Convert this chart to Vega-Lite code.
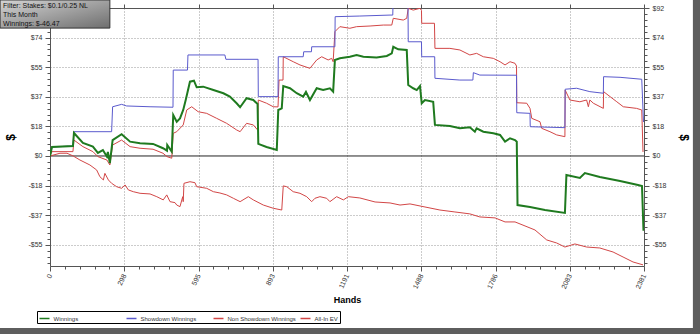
{
"$schema":"https://vega.github.io/schema/vega-lite/v6.json",
"width":594,"height":258,
"autosize":{"type":"none"},
"padding":{"left":50,"top":8,"right":56,"bottom":68},
"background":"white",
"config":{"view":{"stroke":null},"font":"Liberation Sans",
 "axis":{"labelFont":"Liberation Sans","labelFontSize":7,"labelColor":"#333","domainColor":"#555","tickColor":"#555","gridColor":"#999","gridDash":[1,2],"titleFont":"Liberation Sans","titleFontWeight":"bold","titleColor":"#000"}},
"resolve":{"axis":{"y":"independent","x":"independent"}},
"layer":[
 {"data":{"values":[{}]},"mark":{"type":"rule","color":"#222","strokeWidth":1},
  "encoding":{"y":{"datum":0,"type":"quantitative","scale":{"domain":[-68.4,92],"nice":false,"zero":false},
   "axis":{"orient":"right","values":[-66.24,-62.56,-58.88,-55.2,-51.52,-47.84,-44.16,-40.48,-36.8,-33.12,-29.44,-25.76,-22.08,-18.4,-14.72,-11.04,-7.36,-3.68,0,3.68,7.36,11.04,14.72,18.4,22.08,25.76,29.44,33.12,36.8,40.48,44.16,47.84,51.52,55.2,58.88,62.56,66.24,69.92,73.6,77.28,80.96,84.64,88.32,92],
    "labelExpr":"abs(datum.value/18.4-round(datum.value/18.4))<0.001 ? (datum.value<0 ? '-$'+round(-datum.value) : '$'+round(datum.value)) : ''",
    "tickSize":{"condition":{"test":"abs(datum.value/18.4-round(datum.value/18.4))<0.001","value":5},"value":3},
    "grid":false,"labelPadding":3,"title":"$","titleFontSize":12,"titleAngle":90,"titlePadding":10}}}},
 {"data":{"values":[
{"s":"NSD","h":0,"v":0},{"s":"NSD","h":40,"v":1.7},{"s":"NSD","h":68,"v":1.7},{"s":"NSD","h":93,"v":0},{"s":"NSD","h":120,"v":-2.5},{"s":"NSD","h":160,"v":-5.6},{"s":"NSD","h":187,"v":-8.7},{"s":"NSD","h":200,"v":-12.9},{"s":"NSD","h":214,"v":-14.9},{"s":"NSD","h":220,"v":-10.8},{"s":"NSD","h":234,"v":-14.9},{"s":"NSD","h":247,"v":-17},{"s":"NSD","h":267,"v":-19.1},{"s":"NSD","h":287,"v":-20.1},{"s":"NSD","h":301,"v":-18},{"s":"NSD","h":314,"v":-21.1},{"s":"NSD","h":334,"v":-22.2},{"s":"NSD","h":361,"v":-23.2},{"s":"NSD","h":401,"v":-23.6},{"s":"NSD","h":428,"v":-25.3},{"s":"NSD","h":454,"v":-27.3},{"s":"NSD","h":468,"v":-24.2},{"s":"NSD","h":481,"v":-28.4},{"s":"NSD","h":501,"v":-29},{"s":"NSD","h":508,"v":-30.5},{"s":"NSD","h":521,"v":-31.5},{"s":"NSD","h":532,"v":-25.3},{"s":"NSD","h":534,"v":-28.4},{"s":"NSD","h":537,"v":-17},{"s":"NSD","h":561,"v":-16},{"s":"NSD","h":581,"v":-16.6},{"s":"NSD","h":588,"v":-19.1},{"s":"NSD","h":628,"v":-20.1},{"s":"NSD","h":655,"v":-22.2},{"s":"NSD","h":681,"v":-23},{"s":"NSD","h":708,"v":-24.2},{"s":"NSD","h":735,"v":-26.3},{"s":"NSD","h":762,"v":-28.4},{"s":"NSD","h":795,"v":-25.3},{"s":"NSD","h":815,"v":-27.3},{"s":"NSD","h":855,"v":-30.5},{"s":"NSD","h":895,"v":-32.5},{"s":"NSD","h":929,"v":-33.6},{"s":"NSD","h":935,"v":-18.6},{"s":"NSD","h":949,"v":-19.1},{"s":"NSD","h":975,"v":-22.2},{"s":"NSD","h":1002,"v":-23.2},{"s":"NSD","h":1029,"v":-25.3},{"s":"NSD","h":1049,"v":-28.4},{"s":"NSD","h":1062,"v":-26.3},{"s":"NSD","h":1082,"v":-25.3},{"s":"NSD","h":1109,"v":-26.3},{"s":"NSD","h":1122,"v":-28.4},{"s":"NSD","h":1149,"v":-25.3},{"s":"NSD","h":1176,"v":-27.3},{"s":"NSD","h":1196,"v":-25.3},{"s":"NSD","h":1242,"v":-26.1},{"s":"NSD","h":1303,"v":-28.6},{"s":"NSD","h":1363,"v":-29.2},{"s":"NSD","h":1403,"v":-30.5},{"s":"NSD","h":1443,"v":-29.8},{"s":"NSD","h":1503,"v":-31.7},{"s":"NSD","h":1563,"v":-33.6},{"s":"NSD","h":1623,"v":-34.8},{"s":"NSD","h":1683,"v":-36},{"s":"NSD","h":1723,"v":-37.9},{"s":"NSD","h":1784,"v":-38.5},{"s":"NSD","h":1824,"v":-41},{"s":"NSD","h":1864,"v":-41},{"s":"NSD","h":1904,"v":-43.5},{"s":"NSD","h":1944,"v":-46},{"s":"NSD","h":1991,"v":-52.2},{"s":"NSD","h":2031,"v":-54.1},{"s":"NSD","h":2064,"v":-56.6},{"s":"NSD","h":2104,"v":-54.7},{"s":"NSD","h":2151,"v":-56.6},{"s":"NSD","h":2204,"v":-57.2},{"s":"NSD","h":2257,"v":-59.7},{"s":"NSD","h":2297,"v":-62.8},{"s":"NSD","h":2337,"v":-65.9},{"s":"NSD","h":2377,"v":-67.7},
{"s":"EV","h":0,"v":0},{"s":"EV","h":8,"v":2.7},{"s":"EV","h":92,"v":2.7},{"s":"EV","h":96,"v":9.9},{"s":"EV","h":132,"v":5.8},{"s":"EV","h":172,"v":2.7},{"s":"EV","h":192,"v":-0.4},{"s":"EV","h":228,"v":-2.5},{"s":"EV","h":240,"v":-5.6},{"s":"EV","h":251,"v":6.8},{"s":"EV","h":287,"v":9.9},{"s":"EV","h":321,"v":5.8},{"s":"EV","h":361,"v":4.8},{"s":"EV","h":413,"v":4.2},{"s":"EV","h":453,"v":1.7},{"s":"EV","h":469,"v":-0.4},{"s":"EV","h":488,"v":-1.4},{"s":"EV","h":494,"v":14.1},{"s":"EV","h":508,"v":15.1},{"s":"EV","h":534,"v":19.3},{"s":"EV","h":548,"v":28.6},{"s":"EV","h":568,"v":30.6},{"s":"EV","h":594,"v":27.5},{"s":"EV","h":628,"v":26.5},{"s":"EV","h":668,"v":23.4},{"s":"EV","h":708,"v":20.3},{"s":"EV","h":748,"v":16.2},{"s":"EV","h":762,"v":15.1},{"s":"EV","h":788,"v":20.3},{"s":"EV","h":815,"v":19.3},{"s":"EV","h":832,"v":16.2},{"s":"EV","h":835,"v":34.8},{"s":"EV","h":868,"v":32.8},{"s":"EV","h":895,"v":30.6},{"s":"EV","h":914,"v":30.5},{"s":"EV","h":918,"v":47.2},{"s":"EV","h":934,"v":47.2},{"s":"EV","h":935,"v":61.7},{"s":"EV","h":975,"v":58.6},{"s":"EV","h":1002,"v":56.6},{"s":"EV","h":1042,"v":54.5},{"s":"EV","h":1069,"v":59.7},{"s":"EV","h":1089,"v":61.7},{"s":"EV","h":1115,"v":59.7},{"s":"EV","h":1129,"v":60.7},{"s":"EV","h":1135,"v":58.6},{"s":"EV","h":1142,"v":77.3},{"s":"EV","h":1162,"v":80.4},{"s":"EV","h":1202,"v":79.4},{"s":"EV","h":1229,"v":80.4},{"s":"EV","h":1283,"v":80.8},{"s":"EV","h":1336,"v":81.4},{"s":"EV","h":1370,"v":81.4},{"s":"EV","h":1376,"v":85.6},{"s":"EV","h":1416,"v":84.5},{"s":"EV","h":1430,"v":85.6},{"s":"EV","h":1436,"v":91.8},{"s":"EV","h":1456,"v":90.7},{"s":"EV","h":1483,"v":91.8},{"s":"EV","h":1489,"v":90.5},{"s":"EV","h":1490,"v":82.5},{"s":"EV","h":1541,"v":82.5},{"s":"EV","h":1543,"v":66.9},{"s":"EV","h":1603,"v":66.9},{"s":"EV","h":1643,"v":65.9},{"s":"EV","h":1683,"v":62.8},{"s":"EV","h":1710,"v":63.8},{"s":"EV","h":1737,"v":61.7},{"s":"EV","h":1777,"v":60.7},{"s":"EV","h":1804,"v":58.6},{"s":"EV","h":1824,"v":56.6},{"s":"EV","h":1844,"v":58.6},{"s":"EV","h":1864,"v":57.6},{"s":"EV","h":1870,"v":55.9},{"s":"EV","h":1871,"v":33.1},{"s":"EV","h":1911,"v":32.8},{"s":"EV","h":1924,"v":29.6},{"s":"EV","h":1931,"v":23.4},{"s":"EV","h":1964,"v":21.3},{"s":"EV","h":1971,"v":17.2},{"s":"EV","h":2004,"v":15.1},{"s":"EV","h":2031,"v":13.1},{"s":"EV","h":2064,"v":12},{"s":"EV","h":2065,"v":41},{"s":"EV","h":2084,"v":34.8},{"s":"EV","h":2124,"v":33.7},{"s":"EV","h":2151,"v":34.8},{"s":"EV","h":2158,"v":30.6},{"s":"EV","h":2164,"v":34.8},{"s":"EV","h":2178,"v":32.8},{"s":"EV","h":2218,"v":29.6},{"s":"EV","h":2219,"v":40},{"s":"EV","h":2245,"v":36.9},{"s":"EV","h":2272,"v":33.7},{"s":"EV","h":2298,"v":30.6},{"s":"EV","h":2351,"v":29.6},{"s":"EV","h":2372,"v":28.6},{"s":"EV","h":2377,"v":2.5},
{"s":"SD","h":0,"v":0},{"s":"SD","h":8,"v":5.6},{"s":"SD","h":92,"v":6.2},{"s":"SD","h":96,"v":15.1},{"s":"SD","h":247,"v":15.1},{"s":"SD","h":251,"v":30.6},{"s":"SD","h":287,"v":32.1},{"s":"SD","h":307,"v":31.1},{"s":"SD","h":401,"v":30.6},{"s":"SD","h":493,"v":30.3},{"s":"SD","h":494,"v":53.4},{"s":"SD","h":551,"v":53.4},{"s":"SD","h":553,"v":62.8},{"s":"SD","h":701,"v":62.8},{"s":"SD","h":705,"v":60.1},{"s":"SD","h":834,"v":60.1},{"s":"SD","h":835,"v":36.9},{"s":"SD","h":914,"v":36.9},{"s":"SD","h":915,"v":61.7},{"s":"SD","h":1015,"v":61.7},{"s":"SD","h":1017,"v":64.8},{"s":"SD","h":1048,"v":64.8},{"s":"SD","h":1049,"v":67.9},{"s":"SD","h":1142,"v":67.9},{"s":"SD","h":1143,"v":86.6},{"s":"SD","h":1242,"v":87},{"s":"SD","h":1363,"v":87.6},{"s":"SD","h":1374,"v":87.6},{"s":"SD","h":1375,"v":95},{"s":"SD","h":1435,"v":95},{"s":"SD","h":1436,"v":71},{"s":"SD","h":1489,"v":71},{"s":"SD","h":1490,"v":61.7},{"s":"SD","h":1542,"v":61.7},{"s":"SD","h":1543,"v":48.3},{"s":"SD","h":1643,"v":47.2},{"s":"SD","h":1695,"v":47.2},{"s":"SD","h":1697,"v":51.8},{"s":"SD","h":1723,"v":50.3},{"s":"SD","h":1870,"v":50.2},{"s":"SD","h":1871,"v":26.9},{"s":"SD","h":1924,"v":26.5},{"s":"SD","h":1925,"v":18.2},{"s":"SD","h":2064,"v":17.6},{"s":"SD","h":2065,"v":41.5},{"s":"SD","h":2111,"v":42.1},{"s":"SD","h":2164,"v":40},{"s":"SD","h":2218,"v":39},{"s":"SD","h":2219,"v":49.3},{"s":"SD","h":2285,"v":48.9},{"s":"SD","h":2372,"v":47.7},{"s":"SD","h":2379,"v":21.1},
{"s":"W","h":0,"v":0},{"s":"W","h":8,"v":5.6},{"s":"W","h":92,"v":6.2},{"s":"W","h":96,"v":14.3},{"s":"W","h":132,"v":8.1},{"s":"W","h":172,"v":5.8},{"s":"W","h":192,"v":1.9},{"s":"W","h":212,"v":3.7},{"s":"W","h":228,"v":-0.4},{"s":"W","h":232,"v":2.5},{"s":"W","h":240,"v":-4.4},{"s":"W","h":251,"v":9.9},{"s":"W","h":287,"v":13.5},{"s":"W","h":321,"v":8.9},{"s":"W","h":361,"v":7.9},{"s":"W","h":413,"v":7.5},{"s":"W","h":453,"v":4.8},{"s":"W","h":469,"v":3.3},{"s":"W","h":470,"v":6.8},{"s":"W","h":488,"v":2.7},{"s":"W","h":494,"v":25.5},{"s":"W","h":508,"v":21.3},{"s":"W","h":521,"v":23.4},{"s":"W","h":534,"v":28.6},{"s":"W","h":544,"v":34.8},{"s":"W","h":561,"v":46.2},{"s":"W","h":577,"v":46.8},{"s":"W","h":588,"v":42.7},{"s":"W","h":614,"v":43.1},{"s":"W","h":655,"v":41},{"s":"W","h":695,"v":39},{"s":"W","h":721,"v":36.9},{"s":"W","h":748,"v":32.8},{"s":"W","h":762,"v":30.3},{"s":"W","h":788,"v":35.9},{"s":"W","h":815,"v":34.8},{"s":"W","h":832,"v":32.3},{"s":"W","h":835,"v":7.5},{"s":"W","h":868,"v":5.6},{"s":"W","h":909,"v":3.7},{"s":"W","h":915,"v":28.6},{"s":"W","h":929,"v":29.6},{"s":"W","h":935,"v":43.5},{"s":"W","h":962,"v":42.1},{"s":"W","h":989,"v":39},{"s":"W","h":1015,"v":36.9},{"s":"W","h":1026,"v":39.8},{"s":"W","h":1042,"v":34.8},{"s":"W","h":1069,"v":42.1},{"s":"W","h":1095,"v":41},{"s":"W","h":1122,"v":42.1},{"s":"W","h":1135,"v":40},{"s":"W","h":1142,"v":59.7},{"s":"W","h":1162,"v":60.7},{"s":"W","h":1202,"v":61.7},{"s":"W","h":1229,"v":62.8},{"s":"W","h":1256,"v":61.7},{"s":"W","h":1309,"v":61.3},{"s":"W","h":1350,"v":62.2},{"s":"W","h":1370,"v":63.8},{"s":"W","h":1376,"v":67.9},{"s":"W","h":1396,"v":66.3},{"s":"W","h":1430,"v":65.9},{"s":"W","h":1436,"v":44.1},{"s":"W","h":1456,"v":42.1},{"s":"W","h":1470,"v":41},{"s":"W","h":1483,"v":43.5},{"s":"W","h":1490,"v":32.8},{"s":"W","h":1503,"v":34.8},{"s":"W","h":1536,"v":33.7},{"s":"W","h":1543,"v":19.3},{"s":"W","h":1603,"v":18.6},{"s":"W","h":1643,"v":17.2},{"s":"W","h":1683,"v":17.8},{"s":"W","h":1703,"v":15.1},{"s":"W","h":1710,"v":17.2},{"s":"W","h":1737,"v":15.1},{"s":"W","h":1777,"v":14.1},{"s":"W","h":1804,"v":13.1},{"s":"W","h":1824,"v":8.9},{"s":"W","h":1844,"v":11},{"s":"W","h":1864,"v":9.9},{"s":"W","h":1871,"v":8.9},{"s":"W","h":1874,"v":-30.5},{"s":"W","h":1924,"v":-31.7},{"s":"W","h":1984,"v":-33.6},{"s":"W","h":2064,"v":-35.4},{"s":"W","h":2070,"v":-11.8},{"s":"W","h":2124,"v":-13.7},{"s":"W","h":2144,"v":-10.6},{"s":"W","h":2204,"v":-13.1},{"s":"W","h":2285,"v":-15.5},{"s":"W","h":2357,"v":-18},{"s":"W","h":2373,"v":-18.7},{"s":"W","h":2379,"v":-46.5}
 ]},
  "mark":{"type":"line","clip":true},
  "encoding":{
   "x":{"field":"h","type":"quantitative","scale":{"domain":[0,2381],"nice":false,"zero":false},
    "axis":{"orient":"bottom","values":[0,59.525,119.05,178.575,238.1,297.625,357.15,416.675,476.2,535.725,595.25,654.775,714.3,773.825,833.35,892.875,952.4,1011.925,1071.45,1130.975,1190.5,1250.025,1309.55,1369.075,1428.6,1488.125,1547.65,1607.175,1666.7,1726.225,1785.75,1845.275,1904.8,1964.325,2023.85,2083.375,2142.9,2202.425,2261.95,2321.475,2381],
     "labelExpr":"abs(datum.value/297.625-round(datum.value/297.625))<0.001 ? ''+round(datum.value) : ''",
     "tickSize":{"condition":{"test":"abs(datum.value/297.625-round(datum.value/297.625))<0.001","value":5},"value":3},
     "grid":true,"gridOpacity":{"condition":{"test":"abs(datum.value/297.625-round(datum.value/297.625))<0.001 && datum.value>0 && datum.value<2381","value":1},"value":0},
     "labelAngle":-65,"labelAlign":"right","labelBaseline":"middle","labelPadding":3,"labelOverlap":false,
     "title":"Hands","titleFontSize":9,"titlePadding":6}},
   "y":{"field":"v","type":"quantitative","scale":{"domain":[-68.4,92],"nice":false,"zero":false},
    "axis":{"orient":"left","values":[-66.24,-62.56,-58.88,-55.2,-51.52,-47.84,-44.16,-40.48,-36.8,-33.12,-29.44,-25.76,-22.08,-18.4,-14.72,-11.04,-7.36,-3.68,0,3.68,7.36,11.04,14.72,18.4,22.08,25.76,29.44,33.12,36.8,40.48,44.16,47.84,51.52,55.2,58.88,62.56,66.24,69.92,73.6,77.28,80.96,84.64,88.32,92],
     "labelExpr":"abs(datum.value/18.4-round(datum.value/18.4))<0.001 && datum.value<90 ? (datum.value<0 ? '-$'+round(-datum.value) : '$'+round(datum.value)) : ''",
     "tickSize":{"condition":{"test":"abs(datum.value/18.4-round(datum.value/18.4))<0.001","value":5},"value":3},
     "grid":true,"gridOpacity":{"condition":{"test":"abs(datum.value/18.4-round(datum.value/18.4))<0.001 && datum.value!=0","value":1},"value":0},
     "labelPadding":3,"labelOverlap":false,"title":"$","titleFontSize":12,"titlePadding":10}},
   "color":{"field":"s","type":"nominal","scale":{"domain":["W","SD","NSD","EV"],"range":["#1f7a1f","#5a5acd","#d24646","#d24646"]},
    "legend":{"orient":"none","legendX":-13,"legendY":303,"direction":"horizontal","columns":4,"gridAlign":"all","columnPadding":1,"title":null,
     "strokeColor":"#000","fillColor":"#fff","padding":1.5,"symbolType":"stroke","symbolSize":100,"symbolStrokeWidth":1.5,
     "labelFontSize":6,"labelFont":"Liberation Sans","labelOffset":3,"labelColor":"#333",
     "labelExpr":"datum.label=='W' ? 'Winnings' : datum.label=='SD' ? 'Showdown Winnings' : datum.label=='NSD' ? 'Non Showdown Winnings' : 'All-In EV'"}},
   "strokeWidth":{"condition":{"test":"datum.s=='W'","value":2},"value":1},
   "order":{"field":"h","type":"quantitative"}
  }},
 {"data":{"values":[{}]},
  "mark":{"type":"rect","clip":false,"stroke":"#333","strokeWidth":1,
   "fill":{"gradient":"linear","x1":0,"y1":0,"x2":1,"y2":1,"stops":[{"offset":0,"color":"#d4d4d4"},{"offset":1,"color":"#6e6e6e"}]}},
  "encoding":{"x":{"datum":-200,"type":"quantitative","scale":{"domain":[0,2381],"nice":false,"zero":false},
    "axis":{"orient":"top","values":[0,297.625,595.25,892.875,1190.5,1488.125,1785.75,2083.375,2381],"labels":false,"grid":false,"title":null,"tickSize":4}},
   "x2":{"datum":240},
   "y":{"datum":97,"type":"quantitative","scale":{"domain":[-68.4,92],"nice":false,"zero":false},"axis":null},
   "y2":{"datum":79.5}}},
 {"data":{"values":[{}]},
  "mark":{"type":"text","clip":false,"align":"left","baseline":"top","fontSize":7,"lineHeight":9,"color":"#111",
   "text":["Filter: Stakes: $0.1/0.25 NL","This Month","Winnings: $-46.47"]},
  "encoding":{"x":{"datum":-188,"type":"quantitative","scale":{"domain":[0,2381],"nice":false,"zero":false},"axis":null},
   "y":{"datum":95.8,"type":"quantitative","scale":{"domain":[-68.4,92],"nice":false,"zero":false},"axis":null}}},
 {"data":{"values":[{}]},
  "mark":{"type":"rect","clip":false,"fill":"#5e5e5e"},
  "encoding":{"x":{"datum":2577,"type":"quantitative","scale":{"domain":[0,2381],"nice":false,"zero":false},"axis":null},
   "x2":{"datum":2640},
   "y":{"datum":100,"type":"quantitative","scale":{"domain":[-68.4,92],"nice":false,"zero":false},"axis":null},
   "y2":{"datum":-116}}},
 {"data":{"values":[{}]},
  "mark":{"type":"rect","clip":false,"fill":"#5e5e5e"},
  "encoding":{"x":{"datum":-210,"type":"quantitative","scale":{"domain":[0,2381],"nice":false,"zero":false},"axis":null},
   "x2":{"datum":2640},
   "y":{"datum":-107,"type":"quantitative","scale":{"domain":[-68.4,92],"nice":false,"zero":false},"axis":null},
   "y2":{"datum":-116}}}
]
}
